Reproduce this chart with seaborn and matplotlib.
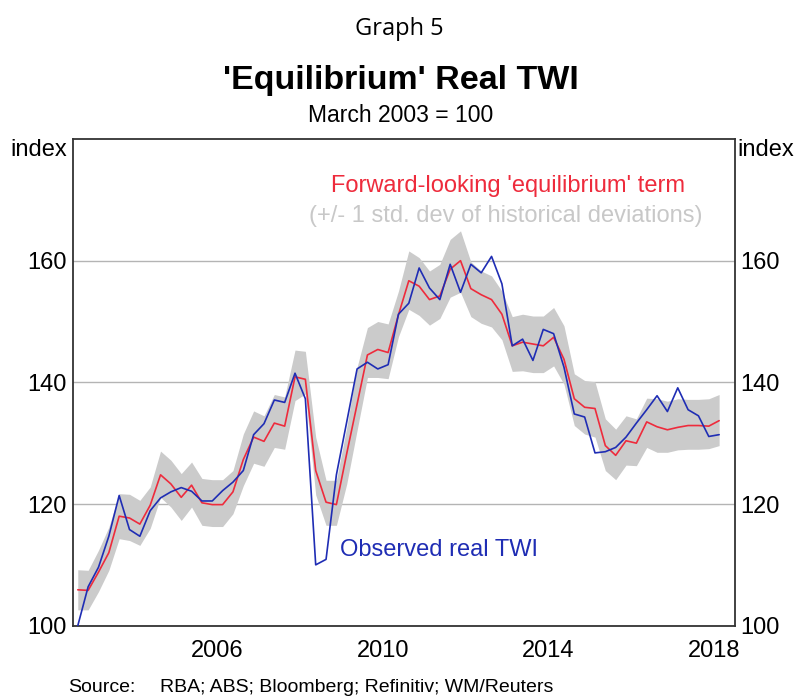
import numpy as np
import pandas as pd
import seaborn as sns
import matplotlib
matplotlib.use("Agg")
from matplotlib import pyplot as plt
from matplotlib.ticker import FixedLocator, NullFormatter, FixedFormatter

# Data (quarterly, 2003Q1 - 2018Q3, index March 2003 = 100)
quarters = np.arange(2003.125, 2018.70, 0.25)

equilibrium = [
    105.9, 105.8, 108.8, 112.0, 118.0, 117.7, 116.7, 119.8, 124.8, 123.3,
    121.1, 123.1, 120.2, 119.9, 119.9, 122.0, 127.3, 131.0, 130.3, 133.3,
    132.8, 140.9, 140.5, 125.5, 120.3, 119.9, 128.3, 136.4, 144.5, 145.4,
    144.9, 151.1, 156.7, 155.8, 153.6, 154.2, 158.6, 160.0, 155.4, 154.4,
    153.6, 151.2, 146.0, 146.6, 146.3, 146.0, 147.4, 143.8, 137.3, 135.9,
    135.7, 129.6, 128.0, 130.4, 130.0, 133.5, 132.7, 132.2, 132.6, 132.9,
    132.9, 132.8, 133.7
]

band_upper = [
    109.2, 109.1, 112.4, 116.2, 121.7, 121.6, 120.6, 122.8, 128.7, 127.2,
    125.0, 126.9, 124.2, 124.0, 124.0, 125.5, 131.5, 135.3, 134.5, 138.0,
    137.6, 145.3, 145.1, 131.0, 123.9, 123.9, 132.6, 142.5, 149.0, 150.0,
    149.6, 155.0, 161.6, 160.5, 158.3, 159.4, 163.5, 164.9, 159.8, 158.3,
    157.5, 155.0, 150.8, 151.2, 150.9, 150.9, 152.3, 149.3, 141.4, 140.3,
    140.1, 134.0, 132.3, 134.5, 134.0, 137.4, 137.3, 136.9, 137.3, 137.2,
    137.2, 137.3, 138.0
]

band_lower = [
    102.6, 102.6, 105.6, 109.1, 114.3, 114.0, 113.2, 116.0, 121.1, 119.5,
    117.3, 119.5, 116.5, 116.3, 116.3, 118.4, 123.0, 126.7, 126.2, 129.3,
    129.0, 137.0, 138.1, 121.5, 116.5, 116.5, 123.3, 132.1, 140.8, 140.8,
    140.6, 147.5, 152.0, 151.0, 149.4, 150.5, 154.0, 154.8, 150.8, 149.7,
    149.1, 147.0, 141.8, 141.9, 141.6, 141.6, 142.7, 139.7, 132.9, 131.5,
    131.0, 125.5, 124.0, 126.4, 126.3, 129.3, 128.5, 128.5, 128.9, 129.0,
    129.0, 129.1, 129.6
]

observed = [
    100.0, 106.4, 109.6, 114.7, 121.4, 115.8, 114.7, 118.9, 121.0, 122.0,
    122.7, 122.1, 120.5, 120.5, 122.2, 123.6, 125.5, 131.4, 133.2, 137.1,
    136.7, 141.5, 137.3, 110.0, 110.9, 124.8, 133.5, 142.2, 143.3, 142.2,
    142.9, 151.2, 153.0, 158.8, 155.5, 153.6, 159.4, 154.8, 159.4, 158.0,
    160.7, 156.2, 146.0, 147.1, 143.6, 148.7, 148.0, 142.5, 134.8, 134.3,
    128.4, 128.6, 129.3, 131.0, 133.3, 135.5, 137.8, 135.2, 139.1, 135.5,
    134.5, 131.1, 131.4
]

year_ticks = list(range(2004, 2019))
year_labels = ["2006", "2010", "2014", "2018"]
year_label_pos = [2006.5, 2010.5, 2014.5, 2018.5]
y_ticks = [100, 120, 140, 160]

df = pd.DataFrame({
    "date": quarters,
    "equilibrium": equilibrium,
    "upper": band_upper,
    "lower": band_lower,
    "observed": observed
})

RED = "#ee2b3c"
BLUE = "#1f2db4"
BAND = "#cbcbcb"

sns.set_style("white")
plt.rcParams["font.family"] = ["Liberation Sans", "DejaVu Sans"]
plt.rcParams["text.color"] = "black"
plt.rcParams["xtick.color"] = "black"
plt.rcParams["ytick.color"] = "black"

fig = plt.figure(figsize=(7.98, 6.97), dpi=100)
ax = fig.add_axes([0.091, 0.1023, 0.8296, 0.6983])

##################################################
# Band and lines
##################################################

ax.fill_between(
    df["date"],
    df["lower"],
    df["upper"],
    color=BAND,
    linewidth=0,
    zorder=2
)

sns.lineplot(
    data=df,
    x="date",
    y="equilibrium",
    color=RED,
    linewidth=1.2,
    ax=ax,
    zorder=3
)

sns.lineplot(
    data=df,
    x="date",
    y="observed",
    color=BLUE,
    linewidth=1.2,
    ax=ax,
    zorder=4
)

##################################################
# Axes
##################################################

ax.set_xlim(2003.0, 2019.0)
ax.set_ylim(100, 180)
ax.set_xlabel("")
ax.set_ylabel("")

ax.xaxis.set_major_locator(FixedLocator(year_ticks))
ax.xaxis.set_major_formatter(NullFormatter())
ax.xaxis.set_minor_locator(FixedLocator(year_label_pos))
ax.xaxis.set_minor_formatter(FixedFormatter(year_labels))
ax.tick_params(axis="x", which="major", direction="in", length=9, width=1.2, color="#222222")
ax.tick_params(axis="x", which="minor", length=0, pad=10, labelsize=17)

ax.set_yticks(y_ticks)
ax.tick_params(
    axis="y",
    length=0,
    labelsize=17,
    labelleft=True,
    labelright=True,
    pad=4
)

ax.grid(axis="y", color="#b4b4b4", linewidth=1.0, zorder=1)
ax.set_axisbelow(True)

for side in ["left", "right", "top", "bottom"]:
    ax.spines[side].set_visible(True)
    ax.spines[side].set_color("#333333")
    ax.spines[side].set_linewidth(1.3)

##################################################
# Text
##################################################

fig.text(0.5, 0.958, "Graph 5", ha="center", va="center",
         fontsize=17, family=["Open Sans", "DejaVu Sans"])
fig.text(0.502, 0.885, "'Equilibrium' Real TWI", ha="center", va="center",
         fontsize=24.5, fontweight="bold")
fig.text(0.502, 0.834, "March 2003 = 100", ha="center", va="center",
         fontsize=16.5)

fig.text(67 / 798, 1 - 150 / 697, "index", ha="right", va="center", fontsize=17)
fig.text(737 / 798, 1 - 150 / 697, "index", ha="left", va="center", fontsize=17)

ax.text(2013.52, 172.2, "Forward-looking 'equilibrium' term",
        color=RED, ha="center", va="center", fontsize=17)
ax.text(2013.47, 167.3, "(+/- 1 std. dev of historical deviations)",
        color="#c8c8c8", ha="center", va="center", fontsize=17)
ax.text(2009.46, 112.4, "Observed real TWI",
        color=BLUE, ha="left", va="center", fontsize=17)

fig.text(68 / 798, 1 - 688 / 697, "Source:", ha="left", va="center", fontsize=14)
fig.text(160 / 798, 1 - 688 / 697, "RBA; ABS; Bloomberg; Refinitiv; WM/Reuters",
         ha="left", va="center", fontsize=14)

plt.savefig("out.png", dpi=100)
plt.close()
